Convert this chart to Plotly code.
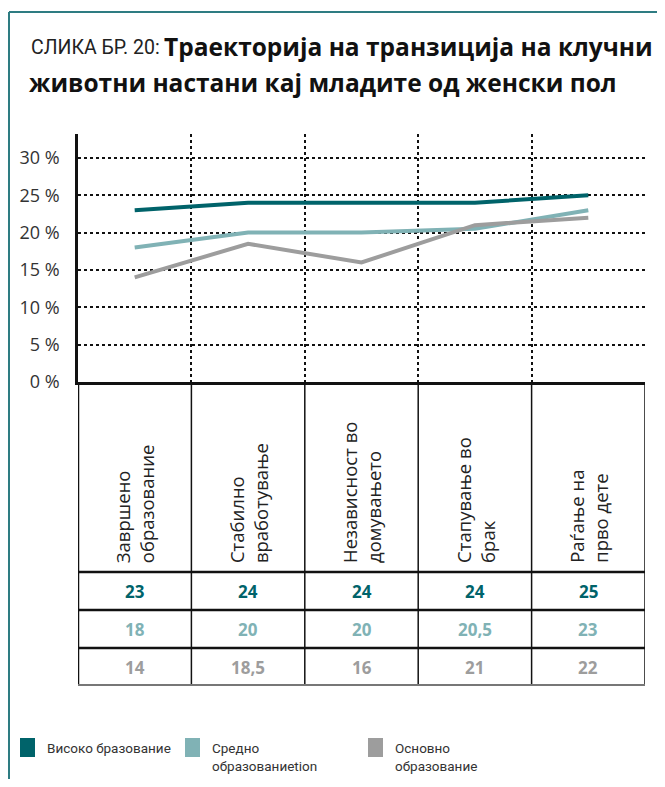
import plotly.graph_objects as go

OFF = 8  # page body margin
W, H = 665 - 2 * OFF, 787 - 2 * OFF

categories = ["Завршено<br>образование", "Стабилно<br>вработување", "Независност во<br>домувањето",
              "Стапување во<br>брак", "Раѓање на<br>прво дете"]
series_names = ["Високо бразование", "Средно<br>образованиеtion", "Основно<br>образование"]
high_edu = [23, 24, 24, 24, 25]
mid_edu = [18, 20, 20, 20.5, 23]
low_edu = [14, 18.5, 16, 21, 22]
high_labels = ["23", "24", "24", "24", "25"]
mid_labels = ["18", "20", "20", "20,5", "23"]
low_labels = ["14", "18,5", "16", "21", "22"]
y_ticks = [0, 5, 10, 15, 20, 25, 30]
y_tick_text = ["0 %", "5 %", "10 %", "15 %", "20 %", "25 %", "30 %"]

colors = ["#00636A", "#80B2B5", "#9D9D9D"]
FONT = "Open Sans"
FONT2 = "Roboto"

def px(x):
    return (x - OFF) / W

def py(y):
    return 1 - (y - OFF) / H

x_idx = list(range(len(categories)))

fig = go.Figure()
for vals, name, col in zip([high_edu, mid_edu, low_edu], series_names, colors):
    fig.add_trace(go.Scatter(x=x_idx, y=vals, mode="lines", name=name,
                             line=dict(color=col, width=4), showlegend=False,
                             hoverinfo="skip"))

fig.update_layout(
    width=W, height=H, margin=dict(l=0, r=0, t=0, b=0),
    paper_bgcolor="white", plot_bgcolor="white",
    font=dict(family=FONT, color="#333333"),
    xaxis=dict(domain=[px(78), px(645)], range=[-0.5, 4.5],
               tickvals=[0.5, 1.5, 2.5, 3.5, 4.5], showticklabels=False,
               ticks="", showgrid=True, griddash="dot", gridcolor="#111111", gridwidth=1.5,
               showline=True, linecolor="#111111", linewidth=3, zeroline=False, fixedrange=True,
               automargin=False),
    yaxis=dict(domain=[py(382), py(134)], range=[0, 33.2],
               tickvals=y_ticks, ticktext=y_tick_text, ticks="", ticklabelstandoff=12,
               tickfont=dict(size=18, color="#333333", family=FONT),
               showgrid=True, griddash="dot", gridcolor="#111111", gridwidth=1.5,
               showline=True, linecolor="#111111", linewidth=2.5, zeroline=False, fixedrange=True,
               automargin=False),
)

shapes = []
# frame
shapes.append(dict(type="line", xref="paper", yref="paper", x0=px(9), x1=1.0, y0=py(12), y1=py(12),
                   line=dict(color="#2E7C82", width=2)))
shapes.append(dict(type="line", xref="paper", yref="paper", x0=px(9), x1=px(9), y0=py(12), y1=0,
                   line=dict(color="#2E7C82", width=2)))
# table verticals
for xb, wdt in zip([-0.5, 0.5, 1.5, 2.5, 3.5, 4.5], [2.5, 1.5, 1.5, 1.5, 1.5, 1.5]):
    shapes.append(dict(type="line", xref="x", yref="paper", x0=xb, x1=xb, y0=py(382), y1=py(685),
                       line=dict(color="#111111", width=wdt)))
# table horizontals
for yb in [572, 610, 648]:
    shapes.append(dict(type="line", xref="x", yref="paper", x0=-0.5, x1=4.5, y0=py(yb), y1=py(yb),
                       line=dict(color="#111111", width=2.5)))
shapes.append(dict(type="line", xref="x", yref="paper", x0=-0.5, x1=4.5, y0=py(685), y1=py(685),
                   line=dict(color="#777777", width=2)))

annotations = []
# title
annotations.append(dict(xref="paper", yref="paper", x=px(29), y=py(47), xanchor="left", yanchor="middle",
                        text="СЛИКА БР. 20:", showarrow=False,
                        font=dict(family=FONT2, size=19.5, color="#222222")))
annotations.append(dict(xref="paper", yref="paper", x=px(162), y=py(46), xanchor="left", yanchor="middle",
                        text="<b>Траекторија на транзиција на клучни</b>", showarrow=False,
                        font=dict(family=FONT, size=24.5, color="#111111")))
annotations.append(dict(xref="paper", yref="paper", x=px(27), y=py(82), xanchor="left", yanchor="middle",
                        text="<b>животни настани кај младите од женски пол</b>", showarrow=False,
                        font=dict(family=FONT, size=24.5, color="#111111")))
# category labels
for i, c in enumerate(categories):
    annotations.append(dict(xref="x", yref="paper", x=i, y=py(565), xanchor="center", yanchor="bottom",
                            text=c, textangle=-90, align="left", showarrow=False,
                            font=dict(family=FONT, size=18.5, color="#222222")))
# table values
for labels, col, yc in zip([high_labels, mid_labels, low_labels], colors, [591, 629, 667]):
    for i, t in enumerate(labels):
        annotations.append(dict(xref="x", yref="paper", x=i, y=py(yc), xanchor="center", yanchor="middle",
                                text="<b>" + t + "</b>", showarrow=False,
                                font=dict(family=FONT, size=17, color=col)))
# legend
leg_x = [20, 185, 368]
for name, col, lx in zip(series_names, colors, leg_x):
    shapes.append(dict(type="rect", xref="paper", yref="paper", x0=px(lx), x1=px(lx + 15),
                       y0=py(757), y1=py(738), fillcolor=col, line=dict(width=0)))
    annotations.append(dict(xref="paper", yref="paper", x=px(lx + 25), y=py(738), xanchor="left", yanchor="top",
                            text=name, align="left", showarrow=False,
                            font=dict(family=FONT2, size=13.5, color="#333333")))

fig.update_layout(shapes=shapes, annotations=annotations)
fig.write_html("out.html")
